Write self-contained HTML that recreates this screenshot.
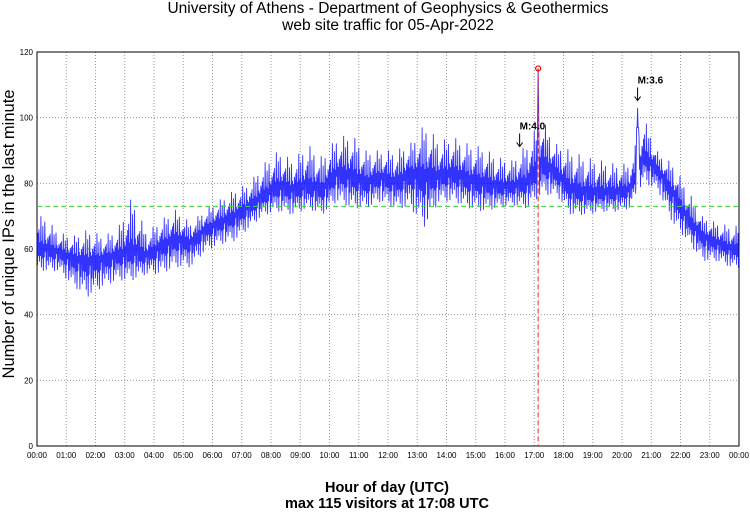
<!DOCTYPE html>
<html><head><meta charset="utf-8"><style>
body{margin:0;background:#fff;font-family:"Liberation Sans",sans-serif}
svg text{font-family:"Liberation Sans",sans-serif}
</style></head><body>
<svg id="c" width="750" height="511">
<text x="388" y="13" font-size="15.5" text-anchor="middle">University of Athens - Department of Geophysics &amp; Geothermics</text>
<text x="388" y="30" font-size="15.5" text-anchor="middle">web site traffic for 05-Apr-2022</text>
<text x="387" y="492" font-size="14.5" font-weight="bold" text-anchor="middle">Hour of day (UTC)</text>
<text x="387" y="508" font-size="14.5" font-weight="bold" text-anchor="middle">max 115 visitors at 17:08 UTC</text>
<text transform="translate(14,234) rotate(-90)" font-size="16.5" text-anchor="middle">Number of unique IPs in the last minute</text>
<g id="grid"></g><g id="series"></g><g id="over"></g>
</svg>
<script>
const hours=["00:00","01:00","02:00","03:00","04:00","05:00","06:00","07:00","08:00","09:00","10:00","11:00","12:00","13:00","14:00","15:00","16:00","17:00","18:00","19:00","20:00","21:00","22:00","23:00","00:00"];
const yTicks=[0,20,40,60,80,100,120];
const mid=[60,59,57,56,57,58,59,58,61,63,62,66,68,70,73,76,79,78,79,78,83,82,80,82,80,83,82,82,83,81,80,79,79,80,86,83,78,77,77,77,78,88,84,77,69,64,62,60];
const low=[53,53,48,45,48,50,50,52,52,54,54,59,61,62,66,70,71,70,72,70,74,72,72,74,72,72,66,74,74,72,71,72,73,72,76,76,70,70,71,71,72,80,77,67,62,56,56,54];
const high=[70,65,64,66,64,66,76,65,69,72,68,72,75,78,80,86,90,87,92,88,94,95,90,90,90,92,98,93,94,92,91,88,87,92,100,92,90,88,87,86,86,100,89,86,78,70,68,67];
const meanVal=[73];
const peakVal=[115];const peakMin=[17*60+8];
const spikeVal=[103];const spikeMin=[20*60+32];
const events=[{label:"M:4.0",min:16*60+30,val:90},{label:"M:3.6",min:20*60+32,val:104}];
const X0=37,X1=739,Y0=446,Y1=52;
const xs=m=>X0+(X1-X0)*m/1440, ys=v=>Y0-(Y0-Y1)*v/120;
const NS="http://www.w3.org/2000/svg";
function mk(t,a,p){const e=document.createElementNS(NS,t);for(const k in a)e.setAttribute(k,a[k]);p.appendChild(e);return e;}
const g=document.getElementById('grid'),s=document.getElementById('series'),o=document.getElementById('over');
hours.forEach((h,i)=>{const x=xs(i*60);
 if(i>0&&i<24){const l=mk('line',{x1:x,x2:x,y1:Y1,y2:Y0,stroke:'#999','stroke-dasharray':'1,2'},g);
 
 }
 const t=mk('text',{x:x,y:458,'font-size':8,'text-anchor':'middle'},g);t.textContent=h;
 
 });
yTicks.forEach(v=>{const y=ys(v);
 if(v>0&&v<120){const l=mk('line',{x1:X0,x2:X1,y1:y,y2:y,stroke:'#999','stroke-dasharray':'1,2'},g);
 
 }
 const t=mk('text',{x:33,y:y+3,'font-size':8,'text-anchor':'end'},g);t.textContent=v;
 
 });
const fr=mk('rect',{x:X0,y:Y1,width:X1-X0,height:Y0-Y1,fill:'none',stroke:'#000'},g);


// jitter pattern (drawing style only) applied to the per-bucket envelope
const pat=[0.5,-0.7,0.9,-0.3,0.6,-1.0,0.2,-0.55,1.0,-0.8,0.45,-0.4,0.7,-0.95,0.15,-0.65,0.85,-0.2,0.55,-0.9,0.35,-0.5,0.75];
function interp(arr,m){const f=(m-15)/30;const i=Math.max(0,Math.min(arr.length-1,Math.floor(f)));const j=Math.min(arr.length-1,i+1);let t=f-i;if(f<0)t=0;t=Math.max(0,Math.min(1,t));return arr[i]+(arr[j]-arr[i])*t;}
let pts=[];
for(let m=0;m<1440;m++){const c=interp(mid,m),lo=interp(low,m),hi=interp(high,m);
 const p=pat[m%pat.length]*(pat[(m*5+3)%pat.length]>-0.3?1:0.55);
 let v=p>=0?c+(hi-c)*p:c+(c-lo)*p;
 if(m===peakMin[0])v=peakVal[0];
 if(m===peakMin[0]+1||m===peakMin[0]-1)v=Math.max(v,peakVal[0]-12);
 if(m===spikeMin[0])v=spikeVal[0];
 if(Math.abs(m-spikeMin[0])===1||Math.abs(m-spikeMin[0])===2)v=Math.max(v,spikeVal[0]-6);
 pts.push(xs(m).toFixed(2)+','+ys(v).toFixed(2));}
const pl=mk('polyline',{points:pts.join(' '),fill:'none',stroke:'#0000ff','stroke-width':0.9,'stroke-opacity':0.8},s);


const ml=mk('line',{x1:X0,x2:X1,y1:ys(meanVal[0]),y2:ys(meanVal[0]),stroke:'#33dd33','stroke-dasharray':'5,3'},o);


const px=xs(peakMin[0]);
const pv=mk('line',{x1:px,x2:px,y1:ys(peakVal[0]),y2:Y0,stroke:'#ee2222','stroke-dasharray':'5,3'},o);


const pc=mk('circle',{cx:px,cy:ys(peakVal[0]),r:2.5,fill:'none',stroke:'#ee0000','stroke-width':1.2},o);


events.forEach(e=>{const x=xs(e.min),y=ys(e.val);
 const t=mk('text',{x:x,y:y-21,'font-size':10,'font-weight':'bold'},o);t.textContent=e.label;
 
 
 const a=mk('path',{d:`M${x},${y-17}V${y-4}M${x-3},${y-8}L${x},${y-4}L${x+3},${y-8}`,stroke:'#000',fill:'none'},o);
 
 });
</script>
</body></html>
